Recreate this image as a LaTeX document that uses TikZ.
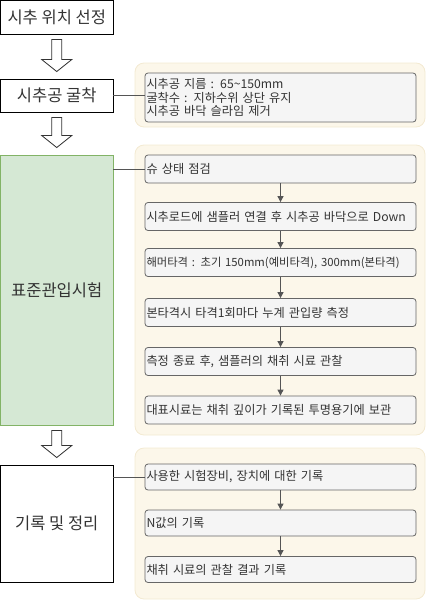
\documentclass[tikz,border=0pt]{standalone}
\usepackage{fontspec}
\setmainfont{Noto Sans CJK KR}
\usetikzlibrary{calc,arrows.meta}
\definecolor{grpfill}{HTML}{FCF7EA}
\definecolor{grpdraw}{HTML}{F3EAD2}
\definecolor{boxfill}{HTML}{F5F5F5}
\definecolor{boxdraw}{HTML}{666666}
\definecolor{txt}{HTML}{333333}
\definecolor{greenfill}{HTML}{D5E8D4}
\definecolor{greendraw}{HTML}{82B366}
\definecolor{conn}{HTML}{555555}
\tikzset{
  leftbox/.style={draw=black, line width=0.9pt, fill=white, text=txt, inner sep=0pt,
    minimum width=112.5pt, font=\fontsize{16.5}{18}\selectfont},
  greenbox/.style={leftbox, draw=greendraw, fill=greenfill},
  group/.style={draw=grpdraw, fill=grpfill, rounded corners=9pt, line width=0.8pt},
  stepbox/.style={draw=boxdraw, fill=boxfill, rounded corners=3pt, line width=0.8pt,
    minimum width=271pt, text width=268pt, align=left, inner sep=1.5pt, text=txt,
    font=\fontsize{12.2}{13.6}\selectfont},
  link/.style={draw=conn, line width=0.9pt},
  flow/.style={draw=conn, line width=0.9pt, -{Triangle[length=6pt,width=6pt]}},
  blockarr/.style={draw=black!80, fill=white, line width=0.8pt, line join=miter}
}
\newcommand\blockarrow[2]{%
  \draw[blockarr] let \p1=(#1.south), \p2=(#2.north) in
    (\x1-5pt,\y1-5pt) -- (\x1+5pt,\y1-5pt) -- (\x1+5pt,\y2+19pt) -- (\x1+15pt,\y2+19pt)
    -- (\x1,\y2+7pt) -- (\x1-15pt,\y2+19pt) -- (\x1-5pt,\y2+19pt) -- cycle;}
\begin{document}
\begin{tikzpicture}[x=1pt,y=-1pt]
\useasboundingbox (0,0) rectangle (426,600);
% groups
\path[group] (135,63) rectangle (425,127);
\path[group] (135,145) rectangle (425,435);
\path[group] (135,448) rectangle (425,599);
% left column
\node[leftbox, minimum height=33.5pt] (b1) at (56.75,17.25) {시추 위치 선정};
\node[leftbox, minimum height=33pt] (b2) at (56.75,95.5) {시추공 굴착};
\node[greenbox, minimum height=270pt] (b3) at (56.75,290) {표준관입시험};
\node[leftbox, minimum height=117pt] (b4) at (56.75,523.5) {기록 및 정리};
\blockarrow{b1}{b2}
\blockarrow{b2}{b3}
\blockarrow{b3}{b4}
% group 1
\node[stepbox, minimum height=49pt] (i1) at (280.5,97.5) {시추공 지름 : 65\textasciitilde150mm\\굴착수 : 지하수위 상단 유지\\시추공 바닥 슬라임 제거};
% group 2
\node[stepbox, minimum height=28pt] (s1) at (280.5,169) {슈 상태 점검};
\node[stepbox, minimum height=28pt] (s2) at (280.5,216.5) {시추로드에 샘플러 연결 후 시추공 바닥으로 Down};
\node[stepbox, minimum height=28pt, font=\fontsize{11.3}{13.6}\selectfont] (s3) at (280.5,262.5) {해머타격 : 초기 150mm(예비타격), 300mm(본타격)};
\node[stepbox, minimum height=28pt] (s4) at (280.5,312.5) {본타격시 타격1회마다 누계 관입량 측정};
\node[stepbox, minimum height=28pt] (s5) at (280.5,361.5) {측정 종료 후, 샘플러의 채취 시료 관찰};
\node[stepbox, minimum height=28pt] (s6) at (280.5,410) {대표시료는 채취 깊이가 기록된 투명용기에 보관};
% group 3
\node[stepbox, minimum height=26pt] (r1) at (280.5,477) {사용한 시험장비, 장치에 대한 기록};
\node[stepbox, minimum height=26pt] (r2) at (280.5,523) {N값의 기록};
\node[stepbox, minimum height=26pt] (r3) at (280.5,569.5) {채취 시료의 관찰 결과 기록};
% connectors
\draw[link] (b2.east) -- (b2.east -| i1.west);
\draw[link] (s1.west -| b3.east) -- (s1.west);
\draw[link] (r1.west -| b4.east) -- (r1.west);
\draw[flow] (s1) -- (s2);
\draw[flow] (s2) -- (s3);
\draw[flow] (s3) -- (s4);
\draw[flow] (s4) -- (s5);
\draw[flow] (s5) -- (s6);
\draw[flow] (r1) -- (r2);
\draw[flow] (r2) -- (r3);
\end{tikzpicture}
\end{document}
